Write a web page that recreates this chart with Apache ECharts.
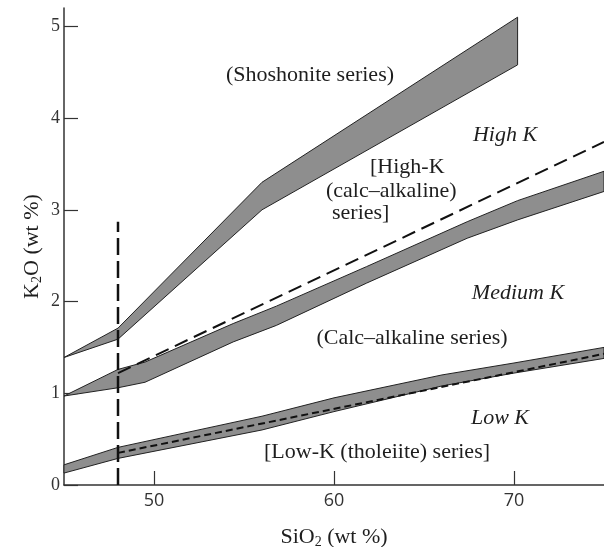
<!DOCTYPE html>
<html><head><meta charset="utf-8">
<script src="https://cdn.jsdelivr.net/npm/echarts@6/dist/echarts.min.js"></script>
<style>html,body{margin:0;padding:0;background:#fff}#c{width:604px;height:547px}</style>
</head><body><div id="c"></div>
<script>
// tick values
const xTicks = [50, 60, 70];
const yTicks = [0, 1, 2, 3, 4, 5];
// band edges [SiO2, K2O]
const shoshUpper = [[45, 1.39], [48, 1.71], [56, 3.3], [70.2, 5.1]];
const shoshLower = [[45, 1.39], [48, 1.59], [56, 3.0], [70.2, 4.58]];
const medUpper = [[45, 0.97], [48, 1.26], [49.5, 1.34], [54.4, 1.76], [56.8, 1.95], [61.8, 2.38], [67.4, 2.87], [70.2, 3.1], [75, 3.42]];
const medLower = [[45, 0.97], [48, 1.06], [49.5, 1.12], [54.4, 1.56], [56.8, 1.74], [61.8, 2.2], [67.4, 2.69], [70.2, 2.89], [75, 3.2]];
const lowUpper = [[45, 0.22], [48, 0.41], [56, 0.75], [60, 0.95], [66, 1.2], [70, 1.33], [75, 1.5]];
const lowLower = [[45, 0.13], [48, 0.29], [56, 0.6], [60, 0.8], [66, 1.08], [70, 1.22], [75, 1.38]];
// dashed lines
const highKLine = [[48, 1.22], [75, 3.74]];
const lowKLine = [[48, 0.35], [75, 1.43]];
const basaltLine = [[48, 0], [48, 2.87]];

const serif = '"Liberation Serif", "DejaVu Serif", serif';
const sans = '"Open Sans", "DejaVu Sans", sans-serif';
const ink = '#1e1e1e';

function band(upper, lower) {
  return {
    type: 'custom',
    data: [0],
    silent: true,
    z: 2,
    renderItem: function (params, api) {
      const pts = upper.concat(lower.slice().reverse()).map(p => api.coord(p));
      return {
        type: 'polygon',
        shape: { points: pts },
        style: { fill: '#8e8e8e', stroke: '#222', lineWidth: 1 }
      };
    }
  };
}
function dashed(data, dash, w) {
  return {
    type: 'line', data: data, symbol: 'none', silent: true, z: 3,
    lineStyle: { color: '#111', width: w, type: dash }
  };
}
function label(text, x, y, align, italic) {
  return { type: 'text', x: x, y: y, z: 10,
    style: { text: text, font: (italic ? 'italic ' : '') + '22px ' + serif, fill: ink, align: align, verticalAlign: 'middle' } };
}

const chart = echarts.init(document.getElementById('c'));
chart.setOption({
  animation: false,
  backgroundColor: '#fff',
  grid: { left: 64, right: 0, top: 8, bottom: 62, containLabel: false, outerBoundsMode: 'none' },
  xAxis: {
    type: 'value', min: 45, max: 75,
    name: 'SiO{s|2} (wt %)', nameLocation: 'middle', nameGap: 40,
    nameTextStyle: { fontFamily: serif, fontSize: 22, color: ink,
      rich: { s: { fontFamily: serif, fontSize: 14, color: ink, padding: [10, 0, 0, 0] } } },
    axisLine: { lineStyle: { color: '#333', width: 1.5 } },
    axisTick: { inside: true, length: 14, customValues: xTicks, lineStyle: { color: '#333', width: 1.2 } },
    axisLabel: { customValues: xTicks, fontFamily: sans, fontSize: 18, color: '#333', margin: 7 },
    splitLine: { show: false }
  },
  yAxis: {
    type: 'value', min: 0, max: 5.2,
    name: 'K{s|2}O (wt %)', nameLocation: 'middle', nameGap: 20, nameRotate: 90, nameMoveOverlap: false,
    nameTextStyle: { fontFamily: serif, fontSize: 22, color: ink,
      rich: { s: { fontFamily: serif, fontSize: 14, color: ink, padding: [10, 0, 0, 0] } } },
    axisLine: { lineStyle: { color: '#333', width: 1.5 } },
    axisTick: { inside: true, length: 14, customValues: yTicks, lineStyle: { color: '#333', width: 1.2 } },
    axisLabel: { customValues: yTicks, fontFamily: serif, fontSize: 18, color: '#333', margin: 4 },
    splitLine: { show: false }
  },
  series: [
    band(shoshUpper, shoshLower),
    band(medUpper, medLower),
    band(lowUpper, lowLower),
    dashed(highKLine, [14, 7], 2),
    dashed(lowKLine, [7, 4], 2),
    dashed(basaltLine, [17, 6], 2.5)
  ],
  graphic: [
    label('(Shoshonite series)', 310, 75, 'center'),
    label('High K', 505, 135, 'center', true),
    label('[High-K', 370, 167, 'left'),
    label('(calc\u2013alkaline)', 326, 191, 'left'),
    label('series]', 332, 213, 'left'),
    label('Medium K', 518, 293, 'center', true),
    label('(Calc\u2013alkaline series)', 412, 338, 'center'),
    label('Low K', 500, 418, 'center', true),
    label('[Low-K (tholeiite) series]', 377, 452, 'center')
  ]
});
</script></body></html>
